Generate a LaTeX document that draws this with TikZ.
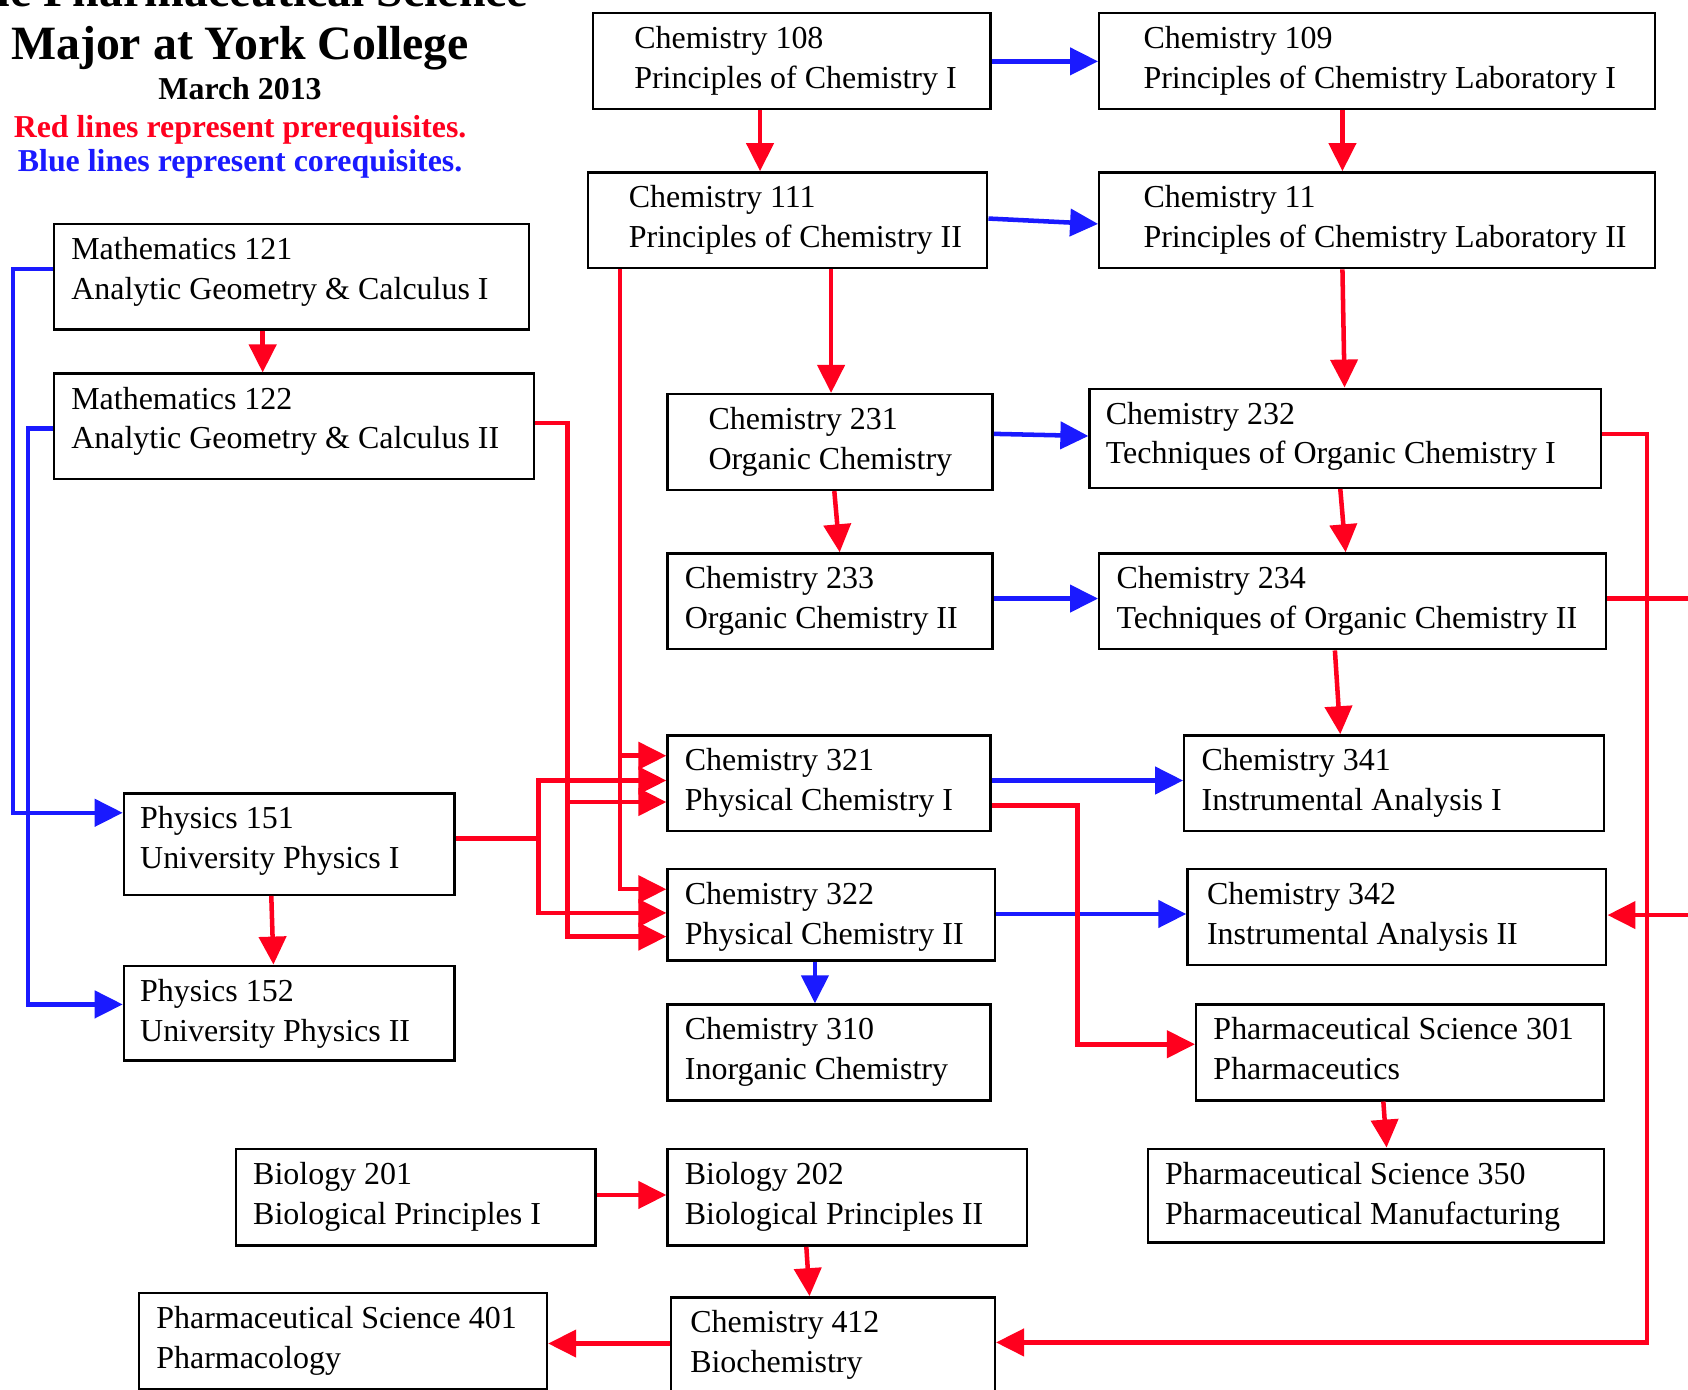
\documentclass[tikz,border=0pt]{standalone}
\usepackage{fontspec}
\setmainfont{Liberation Serif}
\usetikzlibrary{arrows.meta,calc}
\definecolor{pred}{RGB}{255,0,30}
\definecolor{pblue}{RGB}{26,26,255}
\tikzset{
  box/.style={draw=black, line width=2.2pt, rectangle, inner sep=0pt, anchor=north west},
  txt/.style={anchor=base west, inner sep=0pt, font=\fontsize{29.7}{37}\selectfont},
  pre/.style={draw=pred, line width=4.2pt, -{Triangle[length=26pt,width=25pt]}},
  co/.style={draw=pblue, line width=4.2pt, -{Triangle[length=26pt,width=25pt]}},
  bigtitle/.style={anchor=base, inner sep=0pt, font=\bfseries\fontsize{44.4}{50}\selectfont},
  smalltitle/.style={anchor=base, inner sep=0pt, font=\bfseries\fontsize{29.6}{35}\selectfont},
}
\newcommand\course[8]{%
  \node[box, minimum width={#4-#2}, minimum height={#5-#3}] (#1) at (#2,#3) {};
  \node[txt] (#1a) at (#6,#3+34) {#7};
  \node[txt] (#1b) at (#6,#3+71) {#8};
}
\begin{document}
\begin{tikzpicture}[x=1pt,y=-1pt]
\useasboundingbox[fill=white] (0,0) rectangle (1568,1291);

% titles
\node[bigtitle] (t1) at (223,6) {The Pharmaceutical Science};
\node[bigtitle] (t2) at (223,55) {Major at York College};
\node[smalltitle] (t3) at (223,92) {March 2013};
\node[smalltitle, text=pred] (t4) at (223,128) {Red lines represent prerequisites.};
\node[smalltitle, text=pblue] (t5) at (223,159) {Blue lines represent corequisites.};

% courses
\course{c108}{550}{11}{919}{100}{589}{Chemistry 108}{Principles of Chemistry I}
\course{c109}{1020}{11}{1536}{100}{1062}{Chemistry 109}{Principles of Chemistry Laboratory I}
\course{c111}{545}{159}{916}{248}{584}{Chemistry 111}{Principles of Chemistry II}
\course{c112}{1020}{159}{1536}{248}{1062}{Chemistry 11}{Principles of Chemistry Laboratory II}
\course{m121}{49}{207}{490}{305}{66}{Mathematics 121}{Analytic Geometry \& Calculus I}
\course{m122}{49}{346}{495}{444}{66}{Mathematics 122}{Analytic Geometry \& Calculus II}
\course{c231}{619}{365}{921}{454}{658}{Chemistry 231}{Organic Chemistry}
\course{c232}{1011}{360}{1486}{452}{1027}{Chemistry 232}{Techniques of Organic Chemistry I}
\course{c233}{619}{513}{921}{602}{636}{Chemistry 233}{Organic Chemistry II}
\course{c234}{1020}{513}{1491}{602}{1037}{Chemistry 234}{Techniques of Organic Chemistry II}
\course{c321}{619}{682}{919}{771}{636}{Chemistry 321}{Physical Chemistry I}
\course{c341}{1099}{682}{1489}{771}{1116}{Chemistry 341}{Instrumental Analysis I}
\course{p151}{114}{736}{421}{830}{130}{Physics 151}{University Physics I}
\course{c322}{619}{806}{923}{891}{636}{Chemistry 322}{Physical Chemistry II}
\course{c342}{1102}{806}{1491}{895}{1121}{Chemistry 342}{Instrumental Analysis II}
\course{p152}{114}{896}{421}{984}{130}{Physics 152}{University Physics II}
\course{c310}{619}{932}{919}{1021}{636}{Chemistry 310}{Inorganic Chemistry}
\course{ps301}{1110}{932}{1489}{1021}{1127}{Pharmaceutical Science 301}{Pharmaceutics}
\course{b201}{218}{1066}{552}{1156}{235}{Biology 201}{Biological Principles I}
\course{b202}{619}{1066}{953}{1156}{636}{Biology 202}{Biological Principles II}
\course{ps350}{1065}{1066}{1489}{1153}{1082}{Pharmaceutical Science 350}{Pharmaceutical Manufacturing}
\course{ps401}{128}{1200}{507}{1289}{145}{Pharmaceutical Science 401}{Pharmacology}
\course{c412}{622}{1204}{923}{1298}{641}{Chemistry 412}{Biochemistry}

% corequisites (blue)
\draw[co] (c108.east |- 0,57) -- (c109.west |- 0,57);
\draw[co] (c111.east |- 0,203) -- (c112.west |- 0,208);
\draw[co] (c231.east |- 0,403) -- (c232.west |- 0,405);
\draw[co] (c233.east |- 0,556) -- (c234.west |- 0,556);
\draw[co] (c321.east |- 0,725) -- (c341.west |- 0,725);
\draw[co] (c322.east |- 0,849) -- (c342.west |- 0,849);
\draw[co] (757,0 |- c322.south) -- (757,0 |- c310.north);
\draw[co] (m121.west |- 0,250) -| (12,755) -- (p151.west |- 0,755);
\draw[co] (m122.west |- 0,398) -| (26,933) -- (p152.west |- 0,933);

% prerequisites (red)
\draw[pre] (706,0 |- c108.south) -- (706,0 |- c111.north);
\draw[pre] (1247,0 |- c109.south) -- (1247,0 |- c112.north);
\draw[pre] (244,0 |- m121.south) -- (244,0 |- m122.north);
\draw[pre] (772,0 |- c111.south) -- (772,0 |- c231.north);
\draw[pre] (1247,0 |- c112.south) -- (1249,0 |- c232.north);
\draw[pre] (775,0 |- c231.south) -- (780,0 |- c233.north);
\draw[pre] (1245,0 |- c232.south) -- (1250,0 |- c234.north);
\draw[pre] (1240,0 |- c234.south) -- (1245,0 |- c341.north);
\draw[pre] (252,0 |- p151.south) -- (254,0 |- p152.north);
\draw[pre] (1285,0 |- ps301.south) -- (1288,0 |- ps350.north);
\draw[pre] (b201.east |- 0,1110) -- (b202.west |- 0,1110);
\draw[pre] (749,0 |- b202.south) -- (752,0 |- c412.north);
\draw[pre] (c412.west |- 0,1248) -- (ps401.east |- 0,1248);

\draw[pre] (576,0 |- c111.south) |- (c321.west |- 0,702);
\draw[pre] (576,0 |- c111.south) |- (c322.west |- 0,826);
\draw[pre] (m122.east |- 0,393) -| (527,745) -- (c321.west |- 0,745);
\draw[pre] (m122.east |- 0,393) -| (527,870) -- (c322.west |- 0,870);
\draw[pre] (p151.east |- 0,779) -- (500,779) |- (c321.west |- 0,725);
\draw[pre] (p151.east |- 0,779) -- (500,779) |- (c322.west |- 0,848);

\draw[pre] (c232.east |- 0,403) -| (1530,1247) -- (c412.east |- 0,1247);
\draw[pre] (c234.east |- 0,556) -- (1600,556) -- (1600,850) -- (c342.east |- 0,850);
\draw[pre] (c321.east |- 0,748) -| (1001,970) -- (ps301.west |- 0,970);
\end{tikzpicture}
\end{document}
